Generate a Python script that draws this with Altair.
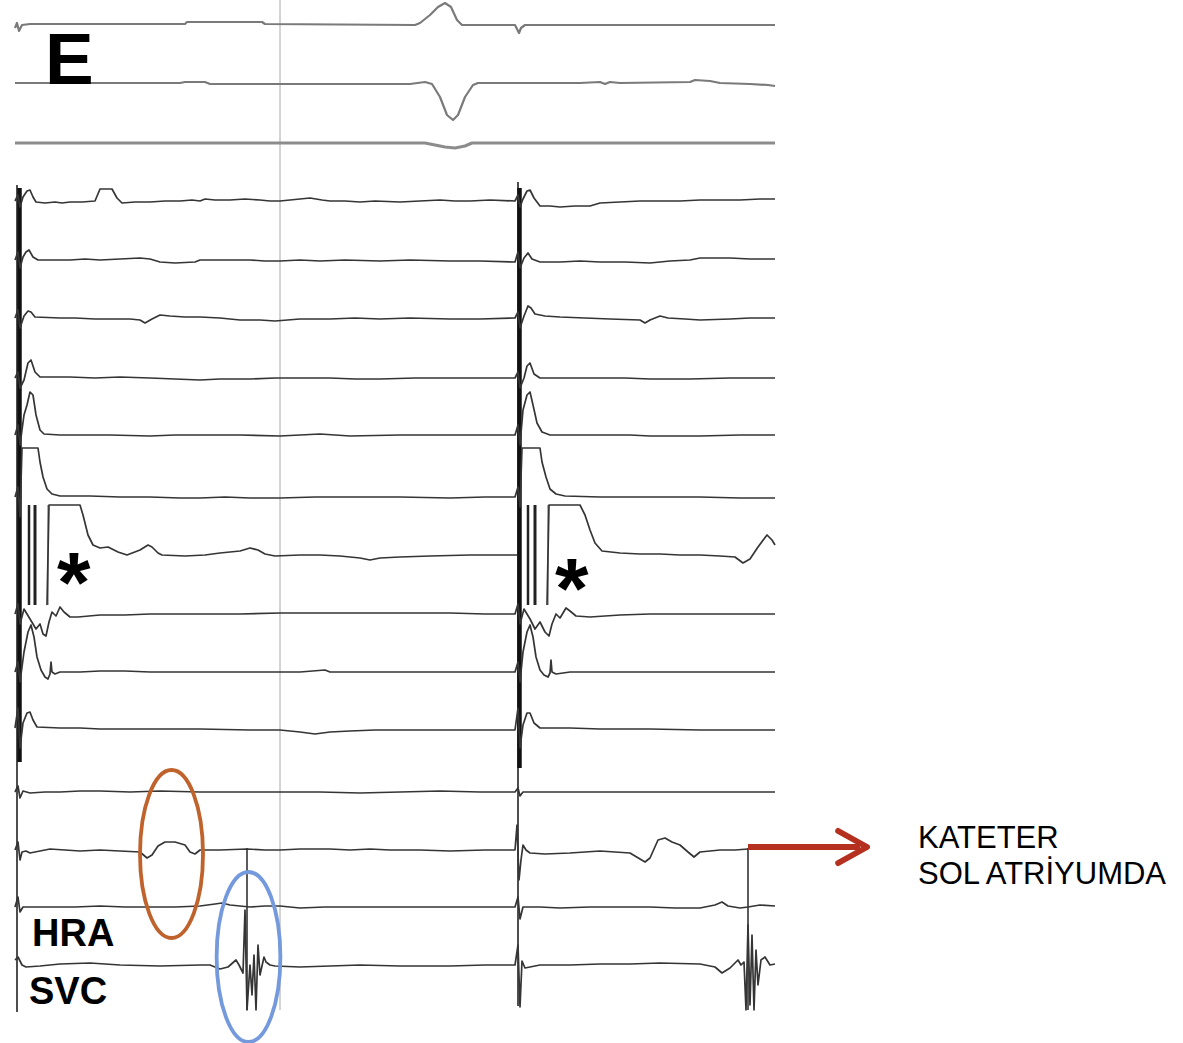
import altair as alt
import pandas as pd

W, H = 1183, 1043

# ---- trace data: (time position, deflection in display units, positive = up) ----
# surface ECG leads
ecg1 = [(15, -3), (17, 2), (19, -6), (22, 0), (30, 1), (185, 1), (187, 3), (262, 3), (265, 1),
        (415, 0), (420, 2), (430, 10), (438, 18), (445, 22), (451, 18), (457, 5), (462, 0),
        (515, 0), (517, -4), (519, -8), (521, -3), (525, 0), (775, 0)]
ecg2 = [(15, 0), (180, 0), (185, 1), (205, 1), (210, -1), (410, -1), (425, 1), (432, -1),
        (440, -14), (447, -32), (453, -37), (458, -32), (465, -14), (473, -2), (478, 0),
        (580, 0), (600, 1), (605, -1), (610, 1), (620, 0), (690, 1), (695, 3), (710, 2),
        (720, 0), (750, -1), (768, -2), (775, -3)]
ecg3 = [(15, 0), (425, 0), (435, -2), (445, -4), (455, -5), (465, -3), (472, 0), (775, 0)]

# intracardiac electrograms
egm01 = [(15, 0), (18, 6), (20, -6), (23, 4), (27, 10), (30, 11), (33, 4), (36, -1), (45, -2),
         (55, -1), (62, -2), (70, -1), (82, -1), (95, 0), (100, 12), (112, 12), (117, 3),
         (122, -2), (135, -1), (150, -1), (165, 0), (180, 0), (192, 1), (200, 0), (205, 2),
         (215, 1), (230, 1), (245, 2), (260, 1), (270, 0), (280, 0), (290, 1), (310, 3),
         (322, 1), (330, 0), (345, 0), (360, -1), (375, 0), (400, -1), (420, 0), (440, 1),
         (455, 0), (470, 0), (490, 1), (515, 0), (518, 6), (520, -6), (523, 2), (527, 10),
         (530, 11), (534, 3), (540, -5), (550, -5), (560, -6), (575, -5), (590, -5), (600, -2),
         (620, -1), (640, 0), (660, 0), (680, 0), (700, 1), (720, 1), (740, 1), (760, 2),
         (775, 2)]
egm02 = [(15, 0), (18, 8), (20, -8), (23, 3), (26, 8), (29, 10), (33, 3), (38, 0), (55, 0),
         (70, 0), (85, 1), (100, 0), (120, 1), (140, 2), (150, 1), (160, -2), (175, -3),
         (195, -2), (200, 0), (225, 0), (250, 0), (265, -1), (280, -1), (300, 0), (320, -1),
         (345, 0), (380, -1), (410, 0), (450, -1), (480, -1), (515, -2), (518, 8), (520, -8),
         (524, 2), (528, 7), (532, 1), (540, -2), (560, -2), (580, -1), (600, -2), (625, -2),
         (650, -3), (670, -1), (690, 0), (700, 2), (715, 2), (730, 2), (750, 1), (775, 1)]
egm03 = [(15, 0), (18, 8), (20, -10), (24, 2), (28, 7), (31, 6), (35, 1), (60, 0), (75, 0),
         (95, -1), (115, -1), (130, -1), (140, -2), (145, -5), (152, -1), (160, 3), (170, 2),
         (185, 1), (200, 1), (220, 0), (240, -2), (260, -2), (275, -3), (300, -1), (330, -1),
         (355, 0), (380, -1), (410, 0), (450, -1), (480, -1), (515, 0), (518, 6), (520, -10),
         (524, 2), (528, 12), (531, 10), (535, 4), (545, 2), (560, 1), (585, 0), (610, -1),
         (640, -2), (645, -5), (650, -2), (660, 2), (668, 0), (685, -1), (700, -2), (730, -1),
         (750, 0), (775, 0)]
egm04 = [(15, 0), (18, 6), (20, -10), (24, -2), (28, 15), (31, 18), (35, 6), (40, 1), (55, 1),
         (70, 1), (95, 0), (120, 1), (150, 0), (175, -1), (200, -2), (220, -1), (250, -1),
         (275, 0), (300, 0), (330, 0), (355, -1), (380, -1), (415, 0), (450, 0), (480, 0),
         (515, 0), (518, 6), (520, -10), (524, 0), (527, 12), (530, 15), (534, 4), (540, 0),
         (570, 0), (600, 0), (625, 0), (650, -1), (690, -1), (730, 0), (775, 0)]
egm05 = [(15, 0), (18, 10), (20, -10), (24, 20), (27, 30), (30, 43), (33, 40), (36, 20), (40, 5),
         (44, 1), (60, 0), (80, 0), (110, 0), (150, -1), (175, 0), (200, 0), (240, 0),
         (280, -1), (300, 0), (320, 1), (350, -1), (400, 0), (450, 0), (485, 0), (515, 0),
         (518, 10), (520, -10), (523, 25), (527, 40), (530, 43), (533, 30), (537, 12),
         (542, 3), (550, 0), (575, 0), (600, 0), (630, 0), (650, -1), (700, -1), (740, 0),
         (775, 0)]
egm06 = [(15, 0), (18, 10), (20, -20), (22, 49), (38, 49), (40, 35), (43, 20), (47, 8), (52, 3),
         (60, 1), (90, 1), (120, 0), (150, 0), (180, -1), (200, -1), (225, 0), (250, -1),
         (280, -1), (315, 0), (350, 0), (400, 0), (450, -1), (485, 0), (515, 0), (518, 10),
         (520, -10), (522, 49), (540, 49), (542, 35), (546, 20), (550, 8), (556, 3), (565, 1),
         (600, 0), (650, 0), (700, 0), (740, -1), (775, -1)]
# paced channel, drawn as two separate sweeps around the stimulus trains
egm07_a = [(47, -50), (49, 50), (80, 50), (83, 40), (88, 20), (93, 10), (100, 7), (108, 8),
           (112, 6), (118, 3), (127, 0), (140, 5), (148, 10), (152, 8), (158, 2), (162, 0),
           (185, -1), (205, 0), (220, 2), (240, 4), (250, 7), (258, 5), (265, 1), (275, -1),
           (300, 0), (320, 0), (340, -1), (360, -3), (370, -5), (380, -3), (400, -2),
           (430, -1), (470, 0), (495, 0), (517, 0)]
egm07_b = [(547, -50), (549, 50), (580, 50), (585, 40), (590, 25), (595, 12), (602, 4),
           (620, 2), (640, 1), (660, 1), (680, 0), (700, 0), (720, -1), (735, -2), (743, -8),
           (750, -4), (758, 8), (767, 20), (772, 15), (775, 10)]
egm08 = [(15, 0), (18, 10), (20, -10), (24, 5), (30, -5), (36, -15), (40, -10), (43, -20),
         (46, -22), (49, -8), (52, 2), (56, -2), (60, 7), (64, 2), (70, -3), (78, -3),
         (100, -1), (125, -1), (150, 0), (175, 0), (200, 0), (240, 0), (280, 1), (300, 1),
         (320, 1), (360, 1), (400, 1), (450, 1), (485, 0), (515, 0), (518, 10), (520, -10),
         (524, 5), (530, -5), (535, -15), (540, -8), (545, -18), (549, -22), (552, -10),
         (556, 0), (560, -4), (566, 6), (570, 3), (576, -2), (590, -3), (620, -1), (650, 0),
         (700, 0), (740, 0), (775, 0)]
egm09 = [(15, 0), (18, 10), (20, -10), (24, 20), (28, 40), (31, 47), (34, 35), (37, 15), (41, 2),
         (45, -5), (48, -7), (50, -2), (51, 10), (52, 0), (55, -2), (60, 0), (80, 0), (100, 1),
         (125, 1), (150, 0), (175, 0), (200, 0), (240, 0), (280, 0), (300, 0), (325, 2),
         (330, 0), (360, 0), (400, 0), (450, 0), (485, 0), (515, 0), (518, 10), (520, -10),
         (523, 20), (527, 40), (530, 47), (533, 35), (536, 15), (540, 2), (544, -3), (548, -5),
         (550, -1), (551, 12), (552, 0), (556, -2), (570, 0), (600, 0), (650, 0), (700, 0),
         (740, 0), (775, 0)]
egm10 = [(15, 0), (18, 20), (20, -20), (23, 5), (27, 15), (30, 16), (33, 8), (37, 1), (60, 0),
         (80, 0), (100, -1), (125, -1), (150, -1), (200, -1), (250, -2), (280, -2), (300, -4),
         (315, -6), (330, -4), (350, -3), (375, -2), (400, -2), (450, -2), (485, -2), (515, -2),
         (518, 20), (520, -20), (523, 3), (527, 15), (530, 15), (534, 5), (540, 0), (570, 0),
         (600, -1), (650, -1), (700, -2), (740, -2), (775, -2)]
egm11 = [(15, 0), (18, 6), (20, -6), (23, 1), (30, -1), (45, 0), (60, 0), (80, 1), (100, 1),
         (130, 0), (160, 1), (200, 0), (240, 0), (280, 0), (320, 0), (360, -1), (400, 0),
         (440, 1), (480, 0), (515, 0), (518, 4), (520, -4), (523, 0), (560, 0), (600, 0),
         (650, 0), (700, 0), (740, 0), (775, 0)]
egm12 = [(15, 0), (18, 8), (20, -10), (22, -2), (26, -1), (30, -3), (50, 1), (65, 0), (80, -1),
         (100, 0), (120, -1), (140, -2), (147, -8), (152, -5), (158, 4), (165, 8), (175, 8),
         (185, 5), (190, -2), (195, -4), (200, 0), (220, 0), (247, 1), (265, 0), (280, 0),
         (300, 1), (330, 1), (350, 0), (370, 1), (390, 0), (420, 0), (450, -1), (485, 0),
         (515, 0), (517, 25), (519, -30), (521, -10), (523, 5), (526, 0), (530, -3), (545, -4),
         (570, -3), (600, -1), (615, -2), (630, -3), (645, -12), (650, -8), (658, 10),
         (665, 12), (672, 8), (680, 5), (688, -2), (694, -7), (700, -2), (720, 0), (735, 0),
         (748, 1), (775, 1)]
hra = [(15, 0), (18, 10), (20, -5), (23, 0), (50, 0), (75, 0), (100, 1), (125, 0), (150, 0),
       (175, 0), (200, 1), (215, 3), (222, 4), (230, 2), (250, 0), (265, 1), (280, 1), (300, -1),
       (325, 0), (350, 0), (400, 0), (450, 0), (485, 0), (515, 0), (518, 10), (520, -12),
       (523, 0), (540, 0), (560, -1), (590, 0), (620, 0), (650, 0), (675, -1), (700, -1),
       (715, 2), (722, 5), (728, 1), (740, -1), (748, 0), (760, 2), (775, 1)]
svc = [(15, 5), (18, 8), (22, 0), (26, -2), (40, -1), (60, 1), (90, 2), (120, 0), (160, -1),
       (200, 0), (210, 0), (220, -4), (228, -2), (236, 5), (239, 0), (243, -8), (245, 55),
       (247, -45), (250, 0), (252, -30), (254, 10), (256, -45), (258, 20), (260, -10), (264, 8),
       (266, 3), (270, 0), (275, -1), (300, -2), (330, -1), (360, 0), (400, -1), (450, -1),
       (485, 0), (515, 0), (518, 20), (520, -42), (522, 4), (525, -3), (540, 0), (570, 0),
       (600, 1), (630, 1), (660, 2), (700, 1), (715, -2), (722, -8), (730, -3), (738, 5),
       (741, 0), (744, 3), (746, -45), (748, 40), (750, -40), (752, 30), (754, -45), (756, 15),
       (758, -20), (761, 5), (765, 8), (770, 0), (775, 1)]

channels = ["I", "aVF", "V1", "E1", "E2", "E3", "E4", "E5", "E6", "E7a", "E7b", "E8", "E9",
            "E10", "E11", "E12", "HRA", "SVC"]
baselines = [25, 83, 143, 201, 260, 318, 378, 435, 497, 555, 555, 614, 672, 728, 792, 850,
             907, 965]
traces = [ecg1, ecg2, ecg3, egm01, egm02, egm03, egm04, egm05, egm06, egm07_a, egm07_b, egm08,
          egm09, egm10, egm11, egm12, hra, svc]
trace_color = ["#7a7a7a", "#7a7a7a", "#8c8c8c"] + ["#353535"] * 15
trace_width = [2.2, 2.2, 3.2] + [1.7] * 15

# stimulus artefacts and pacing spikes: x, top, bottom, width, colour
spike_x = [17, 19.5, 518, 519.5, 29, 35, 48, 528, 535, 548, 247, 748, 280]
spike_top = [185, 188, 182, 188, 505, 505, 505, 505, 505, 505, 848, 848, 0]
spike_bot = [1012, 762, 1006, 768, 605, 605, 605, 605, 605, 605, 1010, 1010, 1010]
spike_w = [1.6, 4.5, 1.6, 4.5, 2.5, 3.0, 1.2, 2.5, 3.0, 1.2, 1.6, 1.6, 1.0]
spike_c = ["#222222", "#111111", "#222222", "#111111", "#222222", "#222222", "#777777",
           "#222222", "#222222", "#777777", "#333333", "#333333", "#a8a8a8"]

# labels
label_text = ["E", "HRA", "SVC", "*", "*", "KATETER", "SOL ATRİYUMDA"]
label_x = [45, 32, 29, 57, 555, 918, 918]
label_y = [84, 946, 1004, 612, 618, 848, 884]
label_size = [73, 38, 38, 86, 86, 31, 31]
label_weight = ["bold", "bold", "bold", "bold", "bold", "normal", "normal"]

# highlighted regions (ellipses): centre, half-height, colour
ring_x = [171.5, 248.5]
ring_y = [854, 957]
ring_ry = [84, 85]
ring_color = ["#c0622b", "#7499dc"]

# arrow pointing at the note
arrow_x = [748, 860]
arrow_y = [847, 847]
arrow_tip = (867, 847)

rows = []
for name, base, pts, col, w in zip(channels, baselines, traces, trace_color, trace_width):
    for i, (t, v) in enumerate(pts):
        rows.append({"ch": name, "t": t, "y": base - v, "i": i, "c": col, "w": w})
trace_df = pd.DataFrame(rows)

xs = alt.Scale(domain=[0, W], nice=False, zero=False)
ys = alt.Scale(domain=[H, 0], nice=False, zero=False)

lines = alt.Chart(trace_df).mark_line(strokeJoin="round", interpolate="linear").encode(
    x=alt.X("t:Q", scale=xs, axis=None),
    y=alt.Y("y:Q", scale=ys, axis=None),
    detail="ch:N",
    order="i:Q",
    color=alt.Color("c:N", scale=None),
    strokeWidth=alt.StrokeWidth("w:Q", scale=None),
)

spike_df = pd.DataFrame({"x": spike_x, "y1": spike_top, "y2": spike_bot, "w": spike_w, "c": spike_c})
spikes = alt.Chart(spike_df).mark_rule().encode(
    x=alt.X("x:Q", scale=xs, axis=None),
    y=alt.Y("y1:Q", scale=ys, axis=None),
    y2="y2:Q",
    color=alt.Color("c:N", scale=None),
    strokeWidth=alt.StrokeWidth("w:Q", scale=None),
)

label_df = pd.DataFrame({"t": label_text, "x": label_x, "y": label_y, "s": label_size,
                         "fw": label_weight})
labels = []
for weight, part in label_df.groupby("fw"):
    labels.append(
        alt.Chart(part).mark_text(
            align="left", baseline="alphabetic", font="Liberation Sans", fontWeight=weight,
            color="#000000",
        ).encode(
            x=alt.X("x:Q", scale=xs, axis=None),
            y=alt.Y("y:Q", scale=ys, axis=None),
            text="t:N",
            size=alt.Size("s:Q", scale=None),
        )
    )

ring_df = pd.DataFrame({"x": ring_x, "y": ring_y, "sz": [(2 * r) ** 2 for r in ring_ry], "c": ring_color})
rings = alt.Chart(ring_df).mark_point(
    shape="M -0.375,0 A 0.375,1 0 1,1 0.375,0 A 0.375,1 0 1,1 -0.375,0 Z",
    filled=False, strokeWidth=3.8, opacity=1,
).encode(
    x=alt.X("x:Q", scale=xs, axis=None),
    y=alt.Y("y:Q", scale=ys, axis=None),
    size=alt.Size("sz:Q", scale=None),
    color=alt.Color("c:N", scale=None),
)

arrow_df = pd.DataFrame({"x": [arrow_x[0]], "x2": [arrow_x[1]], "y": [arrow_y[0]]})
shaft = alt.Chart(arrow_df).mark_rule(color="#b5301f", strokeWidth=6).encode(
    x=alt.X("x:Q", scale=xs, axis=None),
    x2="x2:Q",
    y=alt.Y("y:Q", scale=ys, axis=None),
)
head_df = pd.DataFrame({"x": [arrow_tip[0]], "y": [arrow_tip[1]]})
head = alt.Chart(head_df).mark_point(
    shape="M -1.8,-1 L 0,0 L -1.8,1", filled=False, size=(2 * 16) ** 2,
    strokeWidth=6, color="#b5301f", opacity=1, strokeCap="round", strokeJoin="round",
).encode(
    x=alt.X("x:Q", scale=xs, axis=None),
    y=alt.Y("y:Q", scale=ys, axis=None),
)

chart = alt.layer(spikes, lines, rings, shaft, head, *labels).properties(
    width=W, height=H, autosize="none", padding=0, background="white",
).configure_view(stroke=None)

chart.save("out.html", embed_options={"renderer": "svg", "actions": False})
